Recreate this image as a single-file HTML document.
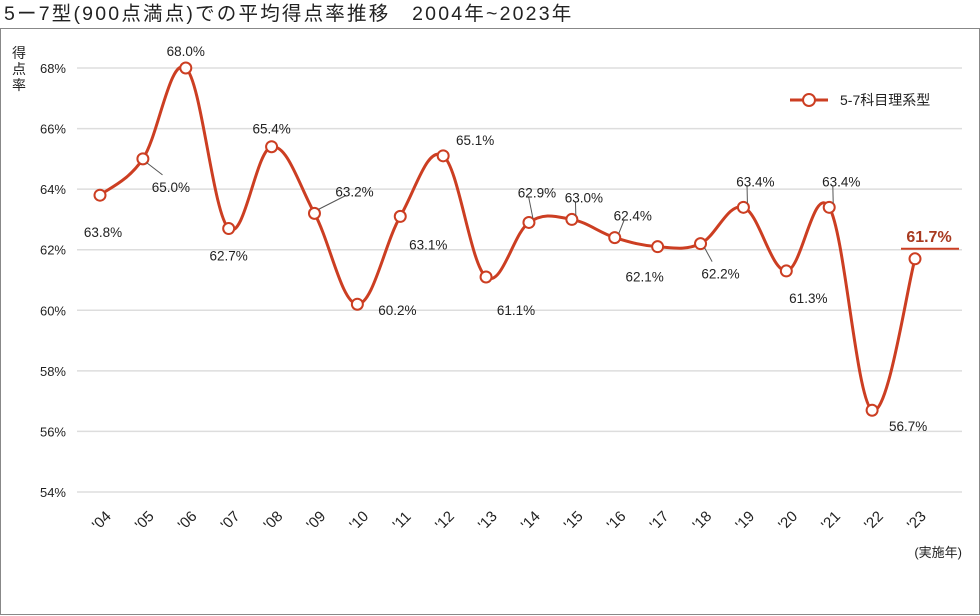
<!DOCTYPE html>
<html><head><meta charset="utf-8"><style>
body{margin:0;background:#fff;}
svg{display:block;font-family:"Liberation Sans","Noto Sans CJK JP",sans-serif;}
</style></head><body>
<svg width="980" height="616" viewBox="0 0 980 616">
<text x="4" y="20" font-size="19.5" fill="#222" letter-spacing="2.2">5ー7型(900点満点)での平均得点率推移　2004年~2023年</text>
<rect x="0.5" y="28.5" width="979" height="586" fill="none" stroke="#888"/>
<g font-size="14" fill="#222">
<text x="12" y="58">得</text><text x="12" y="74">点</text><text x="12" y="90">率</text></g>
<g id="grid"></g><g id="xlab"></g><path id="line" fill="none" stroke="#cc3e22" stroke-width="3"/>
<g id="pts"></g><g id="vals"></g>
<text x="962" y="557" font-size="13" text-anchor="end" fill="#222">(実施年)</text>
<g>
<line x1="790" y1="100" x2="828" y2="100" stroke="#cc3e22" stroke-width="3"/>
<circle cx="809" cy="100" r="6" fill="#fff" stroke="#cc3e22" stroke-width="2"/>
<text x="840" y="105" font-size="14" fill="#222">5-7科目理系型</text></g>
</svg>
<script>
const categories=["'04","'05","'06","'07","'08","'09","'10","'11","'12","'13","'14","'15","'16","'17","'18","'19","'20","'21","'22","'23"];
const values=[63.8,65.0,68.0,62.7,65.4,63.2,60.2,63.1,65.1,61.1,62.9,63.0,62.4,62.1,62.2,63.4,61.3,63.4,56.7,61.7];
const yTicks=[54,56,58,60,62,64,66,68];
// label offsets (dx,dy) and leader flag — styling only
const offs=[[3,37,0],[28,28,1],[0,-17,0],[0,27,0],[0,-18,0],[40,-22,1],[40,6,0],[28,28,0],[32,-16,0],[30,33,0],[8,-30,1],[12,-22,1],[18,-22,1],[-13,30,0],[20,30,1],[12,-26,1],[22,27,0],[12,-26,1],[36,16,0],[14,-22,0]];
const NS="http://www.w3.org/2000/svg";
const X=i=>100+i*(815/19), Y=v=>68+(68-v)*(424/14);
function mk(t,a,p){const e=document.createElementNS(NS,t);for(const k in a)e.setAttribute(k,a[k]);p.appendChild(e);return e;}
const grid=document.getElementById('grid');
yTicks.forEach(t=>{const l=mk('line',{x1:77,x2:962,y1:Y(t),y2:Y(t),stroke:'#ddd','stroke-width':1.5},grid);


const tx=mk('text',{x:66,y:Y(t)+5,'font-size':13,'text-anchor':'end',fill:'#222'},grid);tx.textContent=t+'%';

});
const xl=document.getElementById('xlab');
categories.forEach((c,i)=>{const t=mk('text',{transform:`translate(${X(i)+5},${524}) rotate(-45)`,'font-size':15,'text-anchor':'middle',fill:'#222'},xl);t.textContent=c;

});
const P=values.map((v,i)=>[X(i),Y(v)]);
let d=`M${P[0][0]},${P[0][1]}`;
for(let i=0;i<P.length-1;i++){const p0=P[Math.max(0,i-1)],p1=P[i],p2=P[i+1],p3=P[Math.min(P.length-1,i+2)];
const k=1/5.5;d+=` C${p1[0]+(p2[0]-p0[0])*k},${p1[1]+(p2[1]-p0[1])*k} ${p2[0]-(p3[0]-p1[0])*k},${p2[1]-(p3[1]-p1[1])*k} ${p2[0]},${p2[1]}`;}
document.getElementById('line').setAttribute('d',d);
const pts=document.getElementById('pts'),vals=document.getElementById('vals');
values.forEach((v,i)=>{const c=mk('circle',{cx:P[i][0],cy:P[i][1],r:5.5,fill:'#fff',stroke:'#cc3e22','stroke-width':2},pts);


const o=offs[i],lx=P[i][0]+o[0],ly=P[i][1]+o[1];
if(o[2]){const ln=mk('line',{x1:P[i][0]+(o[0]>0?4:-4),y1:P[i][1]+(o[1]>0?4:-4),x2:lx-(o[0]>0?14:-14)*0.6,y2:ly+(o[1]>0?-12:4),stroke:'#555','stroke-width':1},vals);

}
const last=i===values.length-1;
const t=mk('text',{x:lx,y:ly+5,'font-size':last?16:13.5,'font-weight':last?'bold':'normal','text-anchor':'middle',fill:last?'#a83a20':'#222'},vals);
t.textContent=v.toFixed(1)+'%';


if(last){const u=mk('line',{x1:lx-28,x2:lx+30,y1:ly+12,y2:ly+12,stroke:'#cc3e22','stroke-width':2},vals);

}});
</script>
</body></html>
